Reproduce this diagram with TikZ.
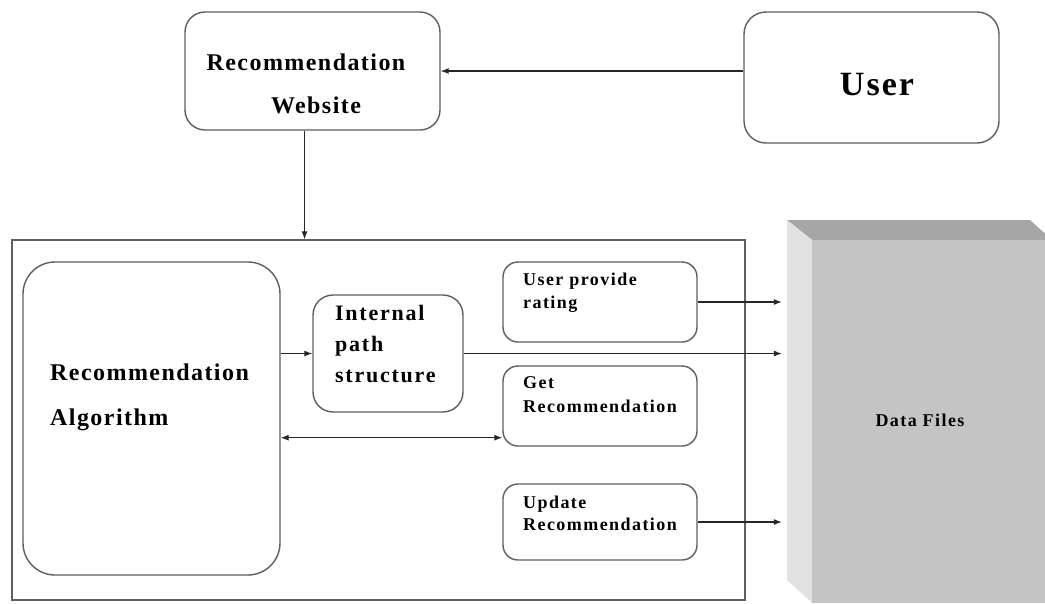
\documentclass[tikz,border=0pt]{standalone}
\usepackage{fontspec}
\setmainfont{Liberation Serif}
\usetikzlibrary{arrows.meta,calc}
\definecolor{linegray}{HTML}{5E5E5E}
\definecolor{frontgray}{HTML}{C4C4C4}
\definecolor{topgray}{HTML}{A6A6A6}
\definecolor{sidegray}{HTML}{E2E2E2}
\newcommand{\lsfont}[3]{\bfseries\fontsize{#1}{#3}\selectfont\addfontfeature{LetterSpace=#2}}
\begin{document}
\begin{tikzpicture}[x=1pt,y=-1pt,
  box/.style={draw=linegray, line width=1.4pt, fill=white, rounded corners=#1, inner sep=0pt},
  frame/.style={draw=linegray, line width=1.4pt, inner sep=0pt},
  txt/.style={inner sep=0pt, align=left, font=#1},
  conn/.style={draw=black!85, line width=1.1pt, -{Latex[length=8pt,width=6pt]}},
  dconn/.style={draw=black!85, line width=1.1pt, {Latex[length=8pt,width=6pt]}-{Latex[length=8pt,width=6pt]}}
]
\useasboundingbox (0,0) rectangle (1045,603);
% outer frame
\node[frame, minimum width=733pt, minimum height=360pt] (frame) at (378.5,420) {};
% top boxes
\node[box=20pt, minimum width=255pt, minimum height=118pt] (web) at (312.5,71) {};
\node[box=22pt, minimum width=255pt, minimum height=131pt] (user) at (871.5,77.5) {};
% inner boxes
\node[box=32pt, minimum width=257pt, minimum height=313pt] (algo) at (151.5,418.5) {};
\node[box=20pt, minimum width=150pt, minimum height=117pt] (internal) at (388,353.5) {};
\node[box=15pt, minimum width=194pt, minimum height=80pt] (rating) at (600,302) {};
\node[box=15pt, minimum width=194pt, minimum height=80pt] (get) at (600,406) {};
\node[box=15pt, minimum width=194pt, minimum height=76pt] (update) at (600,522) {};
% data files 3D block
\fill[topgray] (787,220) -- (1030,220) -- (1052,240) -- (812,240) -- cycle;
\fill[sidegray] (787,220) -- (812,240) -- (812,603) -- (787,580) -- cycle;
\node[fill=frontgray, inner sep=0pt, minimum width=240pt, minimum height=363pt] (df) at (932,421.5) {};
\coordinate (dfin) at ($(df.west)+(-30,0)$);
% texts
\node[txt={\lsfont{24}{6}{28}}] (webt1) at (306,62) {Recommendation};
\node[txt={\lsfont{24}{6}{28}}] (webt2) at (316,105) {Website};
\node[txt={\lsfont{34}{6}{40}}] (usert) at (877,85) {User};
\node[txt={\lsfont{24}{6}{28}}, anchor=west] (algot1) at (50,372) {Recommendation};
\node[txt={\lsfont{24}{6}{28}}, anchor=west] (algot2) at (50,420) {Algorithm};
\node[txt={\lsfont{22}{8}{31}}, anchor=north west] (intt) at (335,305) {Internal\\path\\structure};
\node[txt={\lsfont{18}{8}{23}}, anchor=north west] (ratingt) at (523,273) {User provide\\rating};
\node[txt={\lsfont{18}{8}{24}}, anchor=north west] (gett) at (523,376) {Get\\Recommendation};
\node[txt={\lsfont{18}{8}{22}}, anchor=north west] (updatet) at (523,496) {Update\\Recommendation};
\node[txt={\lsfont{18}{8}{22}}] (dft) at (920,420) {Data Files};
% connectors
\draw[conn] (user.west |- web.east) -- (web.east);
\draw[conn] ([xshift=-8pt]web.south) -- ([xshift=-8pt]web.south |- frame.north);
\draw[conn] (algo.east |- internal.west) -- (internal.west);
\draw[dconn] (algo.east |- get.south west) ++(0,-9) -- ([yshift=9pt]get.south west);
\draw[conn] (rating.east) -- (rating.east -| dfin);
\draw[conn] (internal.east) -- (internal.east -| dfin);
\draw[conn] (update.east) -- (update.east -| dfin);
\end{tikzpicture}
\end{document}
